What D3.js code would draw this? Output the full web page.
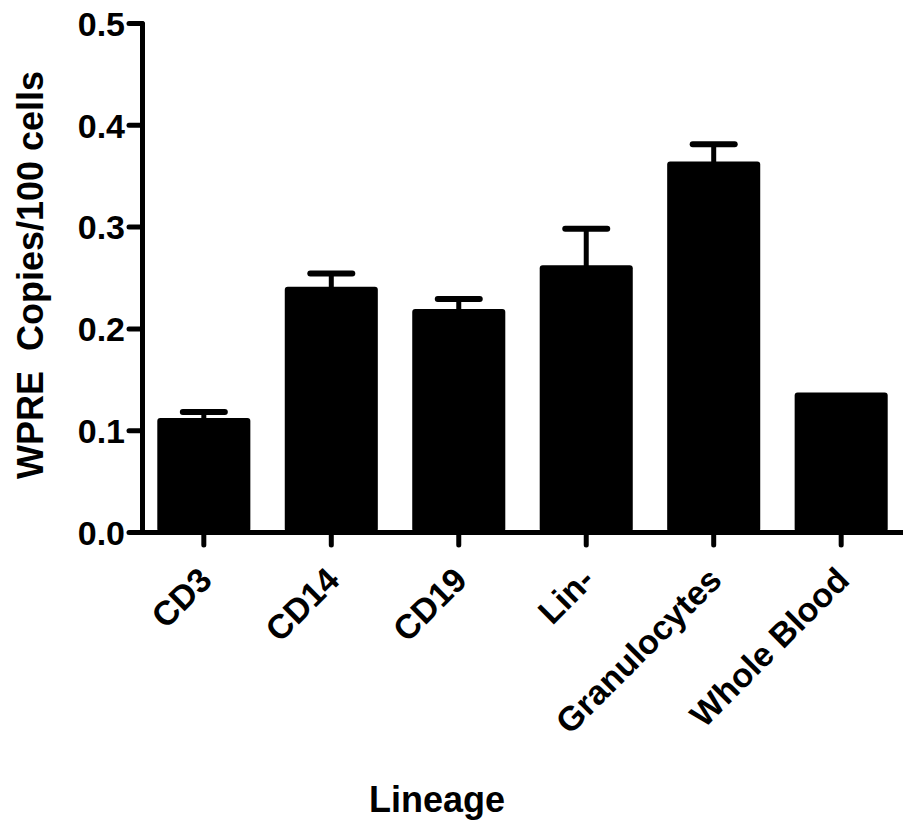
<!DOCTYPE html>
<html>
<head>
<meta charset="utf-8">
<script src="https://cdn.jsdelivr.net/npm/d3@7"></script>
<style>
  body { margin: 0; background: #fff; }
  text { font-family: Arial, "Liberation Sans", sans-serif; font-weight: bold; fill: #000; }
</style>
</head>
<body>
<svg id="Chart"></svg>
<script>
'use strict';

// values
let categories = ["CD3", "CD14", "CD19", "Lin-", "Granulocytes", "Whole Blood"];
let means = [0.112, 0.241, 0.219, 0.262, 0.364, 0.137];
let errors = [0.006, 0.013, 0.010, 0.036, 0.017, 0];
let yTicks = [0.0, 0.1, 0.2, 0.3, 0.4, 0.5];

let store = {};

function loadData() {
    store.rows = categories.map((c, i) => ({ lineage: c, mean: means[i], err: errors[i] }));
    return Promise.resolve(store);
}

function getChartConfig() {
    let width = 903, height = 823;
    let container = d3.select("#Chart")
        .attr("width", width)
        .attr("height", height)
        .append("g");
    return { width, height, container };
}

function getScales() {
    let xScale = d3.scaleBand()
        .domain(categories)
        .range([142, 903])
        .paddingInner(0.27)
        .paddingOuter(0.12);

    let yScale = d3.scaleLinear()
        .domain([0, 0.5])
        .range([532, 23]);

    return { xScale, yScale };
}

function drawBars(config, scales) {
    let { container } = config;
    let { xScale, yScale } = scales;

    container.selectAll(".bar")
        .data(store.rows)
        .enter()
        .append("rect")
        .attr("class", "bar")
        .attr("x", d => xScale(d.lineage))
        .attr("y", d => yScale(d.mean))
        .attr("width", xScale.bandwidth())
        .attr("height", d => yScale(0) - yScale(d.mean))
        .attr("rx", 3)
        .attr("fill", "#000");

    let withErr = store.rows.filter(d => d.err > 0);
    let cx = d => xScale(d.lineage) + xScale.bandwidth() / 2;

    // upper error bar only
    container.selectAll(".err")
        .data(withErr)
        .enter()
        .append("line")
        .attr("class", "err")
        .attr("x1", cx)
        .attr("x2", cx)
        .attr("y1", d => yScale(d.mean) + 2)
        .attr("y2", d => yScale(d.mean + d.err))
        .style("stroke", "#000")
        .style("stroke-width", 5);

    container.selectAll(".cap")
        .data(withErr)
        .enter()
        .append("line")
        .attr("class", "cap")
        .attr("x1", d => cx(d) - 21)
        .attr("x2", d => cx(d) + 21)
        .attr("y1", d => yScale(d.mean + d.err))
        .attr("y2", d => yScale(d.mean + d.err))
        .style("stroke", "#000")
        .style("stroke-width", 6)
        .style("stroke-linecap", "round");
}

function drawAxes(config, scales) {
    let { container } = config;
    let { xScale, yScale } = scales;

    let yAxis = d3.axisLeft(yScale)
        .tickValues(yTicks)
        .tickFormat(d3.format(".1f"))
        .tickSize(13)
        .tickSizeOuter(0)
        .tickPadding(4);

    let gy = container.append("g")
        .attr("class", "y axis")
        .attr("transform", "translate(142,0)")
        .call(yAxis);

    let xAxis = d3.axisBottom(xScale)
        .tickSize(13)
        .tickSizeOuter(0);

    let gx = container.append("g")
        .attr("class", "x axis")
        .attr("transform", "translate(0,532)")
        .call(xAxis);

    [gx, gy].forEach(g => {
        g.select(".domain")
            .style("stroke", "#000")
            .style("stroke-width", 5)
            .style("stroke-linecap", "round");
        g.selectAll(".tick line")
            .style("stroke", "#000")
            .style("stroke-width", 5)
            .style("stroke-linecap", "round");
    });

    gy.selectAll(".tick text")
        .style("font-size", "34px")
        .style("font-family", "Arial, 'Liberation Sans', sans-serif")
        .style("font-weight", "bold")
        .attr("dy", "0.36em");

    gx.selectAll(".tick text")
        .style("font-size", "34px")
        .style("font-family", "Arial, 'Liberation Sans', sans-serif")
        .style("font-weight", "bold")
        .style("text-anchor", "end")
        .attr("y", 0)
        .attr("dy", 0)
        .attr("transform", "translate(10,50) rotate(-45)");

    container.append("text")
        .attr("transform", "rotate(-90)")
        .attr("x", -275)
        .attr("y", 43)
        .style("text-anchor", "middle")
        .style("font-size", "36px")
        .style("white-space", "pre")
        .text("WPRE  Copies/100 cells");

    container.append("text")
        .attr("x", 437)
        .attr("y", 812)
        .style("text-anchor", "middle")
        .style("font-size", "36px")
        .text("Lineage");
}

function drawChart() {
    let config = getChartConfig();
    let scales = getScales();
    drawBars(config, scales);
    drawAxes(config, scales);
}

loadData().then(drawChart);
</script>
</body>
</html>
